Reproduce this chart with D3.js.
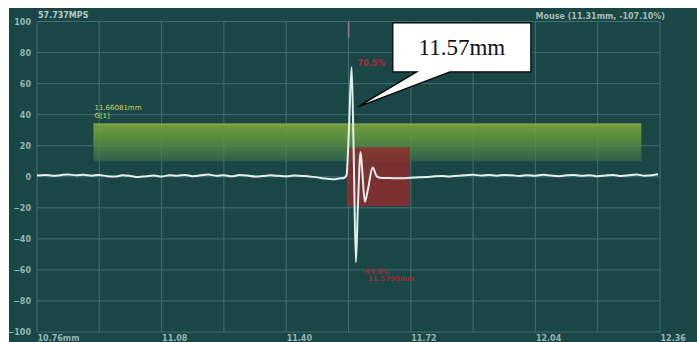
<!DOCTYPE html>
<html>
<head>
<meta charset="utf-8">
<script src="https://cdn.jsdelivr.net/npm/d3@7/dist/d3.min.js"></script>
<style>
  html, body { margin: 0; padding: 0; background: #ffffff; }
  svg { display: block; }
</style>
</head>
<body>
<svg id="chart" width="697" height="342"></svg>
<script>
// A-scan waveform: sound path position (mm) vs. echo amplitude (%)
const positionMm = [
  10.76, 10.78, 10.80, 10.82, 10.84, 10.86, 10.88, 10.90, 10.92, 10.94,
  10.96, 10.98, 11.00, 11.02, 11.04, 11.06, 11.08, 11.10, 11.12, 11.14,
  11.16, 11.18, 11.20, 11.22, 11.24, 11.26, 11.28, 11.30, 11.32, 11.34,
  11.36, 11.38, 11.40, 11.42, 11.44, 11.46, 11.48, 11.50, 11.52, 11.54,
  11.548, 11.555, 11.561, 11.568, 11.573, 11.579, 11.584, 11.591, 11.595,
  11.602, 11.610, 11.622, 11.632, 11.641,
  11.66, 11.68, 11.70, 11.72, 11.74, 11.76, 11.78, 11.80, 11.82, 11.84,
  11.86, 11.88, 11.90, 11.92, 11.94, 11.96, 11.98, 12.00, 12.02, 12.04,
  12.06, 12.08, 12.10, 12.12, 12.14, 12.16, 12.18, 12.20, 12.22, 12.24,
  12.26, 12.28, 12.30, 12.32, 12.34, 12.355
];
const amplitude = [
  0.8, 1.2, 0.6, 1.0, 1.5, 0.9, 1.3, 0.7, 1.1, 0.4,
  0.2, 0.9, 0.5, -0.2, 0.3, 0.8, 0.1, 1.0, 0.6, 1.2,
  0.4, 0.9, 1.4, 0.7, 1.0, 0.3, 1.1, 0.8, 0.2, 0.5,
  0.9, 0.6, 0.3, 0.8, 0.5, 0.2, -0.4, -1.2, -1.6, -1.0,
  -0.8, 1.0, 30, 70.5, 20, -55.0, -20, 16, 5,
  -16, -8, 6, 0.5, -0.6,
  -0.8, -1.0, -0.9, -0.6, -0.4, -0.2, 0.3, 0.5, 0.2, 0.6,
  0.9, 1.3, 0.8, 1.1, 0.7, 1.2, 0.9, 0.5, 1.0, 0.7,
  1.3, 0.8, 0.4, 0.9, 1.1, 0.6, 1.0, 0.3, 0.8, 1.2,
  0.5, 0.9, 1.4, 0.7, 1.0, 1.6
];

// axis ticks
const xTickLabels = ["10.76mm", "11.08", "11.40", "11.72", "12.04", "12.36"];
const xTickValues = [10.76, 11.08, 11.40, 11.72, 12.04, 12.36];
const xGridValues = [10.76, 10.92, 11.08, 11.24, 11.40, 11.56, 11.72, 11.88, 12.04, 12.20, 12.36];
const yTickValues = [100, 80, 60, 40, 20, 0, -20, -40, -60, -80, -100];

// gates: [start mm, end mm, top %, bottom %]
const gateA = [10.905, 12.312, 34, 10];
const gateB = [11.556, 11.718, 19, -19];

// readouts
const speedText = "57.737MPS";
const mouseText = "Mouse (11.31mm, -107.10%)";
const gateALabel = ["11.66081mm", "G[1]"];
const peakLabel = "70.5%";
const troughLabel = ["-55.0%", "11.5790mm"];
const calloutText = "11.57mm";
const calloutTarget = [11.584, 45];

const svg = d3.select("#chart");
const W = 697, H = 342;
const plot = { left: 37, right: 660, top: 21.5, bottom: 332 };

const x = d3.scaleLinear().domain([10.76, 12.36]).range([plot.left, plot.right]);
const y = d3.scaleLinear().domain([-100, 100]).range([plot.bottom, plot.top]);

const labelColor = "#93b7b3";

// screen background
svg.append("rect").attr("x", 9).attr("y", 8).attr("width", W - 9).attr("height", H - 8)
  .attr("fill", "#1b4646");

// grid
const grid = svg.append("g");
grid.selectAll("line.h").data(yTickValues).join("line")
  .attr("x1", plot.left).attr("x2", plot.right)
  .attr("y1", d => y(d)).attr("y2", d => y(d))
  .attr("stroke", "#3d7272").attr("stroke-width", 1);
grid.selectAll("line.v").data(xGridValues).join("line")
  .attr("x1", d => x(d)).attr("x2", d => x(d))
  .attr("y1", plot.top).attr("y2", plot.bottom)
  .attr("stroke", "#3d7272").attr("stroke-width", 1);

// y axis labels
const yAxis = d3.axisLeft(y).tickValues(yTickValues).tickSize(0).tickPadding(6);
svg.append("g").attr("transform", `translate(${plot.left},0)`).call(yAxis)
  .call(g => g.select(".domain").remove())
  .call(g => g.selectAll("text").attr("fill", labelColor)
    .attr("font-family", "DejaVu Sans").attr("font-size", 8).attr("font-weight", "bold"));

// x axis labels (left-aligned at each tick)
const xAxis = d3.axisBottom(x).tickValues(xTickValues).tickSize(0).tickPadding(0)
  .tickFormat((d, i) => xTickLabels[i]);
svg.append("g").attr("transform", `translate(0,${plot.bottom + 3})`).call(xAxis)
  .call(g => g.select(".domain").remove())
  .call(g => g.selectAll("text").attr("fill", labelColor).attr("text-anchor", "start")
    .attr("font-family", "DejaVu Sans").attr("font-size", 8).attr("font-weight", "bold"));

// gate A (green band)
const defs = svg.append("defs");
const gA = defs.append("linearGradient").attr("id", "gateA").attr("x1", 0).attr("x2", 0).attr("y1", 0).attr("y2", 1);
gA.append("stop").attr("offset", "0%").attr("stop-color", "#7aa23a").attr("stop-opacity", 0.95);
gA.append("stop").attr("offset", "45%").attr("stop-color", "#5f9340").attr("stop-opacity", 0.85);
gA.append("stop").attr("offset", "100%").attr("stop-color", "#3d7550").attr("stop-opacity", 0.6);
svg.append("rect")
  .attr("x", x(gateA[0])).attr("y", y(gateA[2]))
  .attr("width", x(gateA[1]) - x(gateA[0])).attr("height", y(gateA[3]) - y(gateA[2]))
  .attr("fill", "url(#gateA)");
svg.append("line")
  .attr("x1", x(gateA[0])).attr("x2", x(gateA[1]))
  .attr("y1", y(gateA[2])).attr("y2", y(gateA[2]))
  .attr("stroke", "#8fb54a").attr("stroke-width", 1);

svg.append("text").attr("x", x(gateA[0]) + 1).attr("y", y(gateA[2]) - 14)
  .attr("fill", "#c8d860").attr("font-family", "DejaVu Sans").attr("font-size", 7)
  .text(gateALabel[0]);
svg.append("text").attr("x", x(gateA[0]) + 1).attr("y", y(gateA[2]) - 6)
  .attr("fill", "#c8d860").attr("font-family", "DejaVu Sans").attr("font-size", 7)
  .text(gateALabel[1]);

// gate B (red band)
svg.append("rect")
  .attr("x", x(gateB[0])).attr("y", y(gateB[2]))
  .attr("width", x(gateB[1]) - x(gateB[0])).attr("height", y(gateB[3]) - y(gateB[2]))
  .attr("fill", "#8c2e2e").attr("opacity", 0.85);

// waveform
const pts = positionMm.map((p, i) => [p, amplitude[i]]);
const line = d3.line().x(d => x(d[0])).y(d => y(d[1])).curve(d3.curveMonotoneX);
svg.append("path").datum(pts).attr("d", line)
  .attr("fill", "none").attr("stroke", "#e6efee").attr("stroke-width", 2)
  .attr("stroke-linejoin", "round");

// peak and trough readouts
const iPeak = amplitude.indexOf(d3.max(amplitude));
const iLow = amplitude.indexOf(d3.min(amplitude));
svg.append("text").attr("x", x(positionMm[iPeak]) + 6).attr("y", y(amplitude[iPeak]) - 1)
  .attr("fill", "#a8303a").attr("font-family", "DejaVu Sans").attr("font-size", 8)
  .attr("font-weight", "bold").text(peakLabel);
svg.append("text").attr("x", x(positionMm[iLow]) + 6).attr("y", y(amplitude[iLow]) + 12)
  .attr("fill", "#9c2c3a").attr("font-family", "DejaVu Sans").attr("font-size", 7)
  .attr("font-weight", "bold").text(troughLabel[0]);
svg.append("text").attr("x", x(positionMm[iLow]) + 12).attr("y", y(amplitude[iLow]) + 19)
  .attr("fill", "#9c2c3a").attr("font-family", "DejaVu Sans").attr("font-size", 7)
  .attr("font-weight", "bold").text(troughLabel[1]);

// cursor marker at the top of the peak column
svg.append("line")
  .attr("x1", x(positionMm[iPeak]) - 3).attr("x2", x(positionMm[iPeak]) - 3)
  .attr("y1", plot.top).attr("y2", plot.top + 16)
  .attr("stroke", "#a77a9c").attr("stroke-width", 1.5);

// header readouts
svg.append("text").attr("x", 38).attr("y", 18).attr("fill", "#b2ccc9")
  .attr("font-family", "DejaVu Sans").attr("font-size", 8).attr("font-weight", "bold").text(speedText);
svg.append("text").attr("x", 665).attr("y", 19).attr("text-anchor", "end").attr("fill", "#9fbdb9")
  .attr("font-family", "DejaVu Sans").attr("font-size", 8).attr("font-weight", "bold").text(mouseText);

// callout bubble pointing at the echo
const tipX = x(calloutTarget[0]), tipY = y(calloutTarget[1]);
const box = { l: tipX + 35, r: tipX + 173, t: tipY - 84, b: tipY - 35 };
const tailL = box.l + 24, tailR = box.l + 57;
const bubble = d3.path();
bubble.moveTo(box.l, box.t);
bubble.lineTo(box.r, box.t);
bubble.lineTo(box.r, box.b);
bubble.lineTo(tailR, box.b);
bubble.lineTo(tipX, tipY);
bubble.lineTo(tailL, box.b);
bubble.lineTo(box.l, box.b);
bubble.closePath();
svg.append("path").attr("d", bubble.toString())
  .attr("fill", "#ffffff").attr("stroke", "#000000").attr("stroke-width", 1.2)
  .attr("stroke-linejoin", "miter");
svg.append("text").attr("x", (box.l + box.r) / 2).attr("y", (box.t + box.b) / 2 + 8)
  .attr("text-anchor", "middle").attr("fill", "#111")
  .attr("font-family", "Liberation Serif").attr("font-size", 23).text(calloutText);
</script>
</body>
</html>
